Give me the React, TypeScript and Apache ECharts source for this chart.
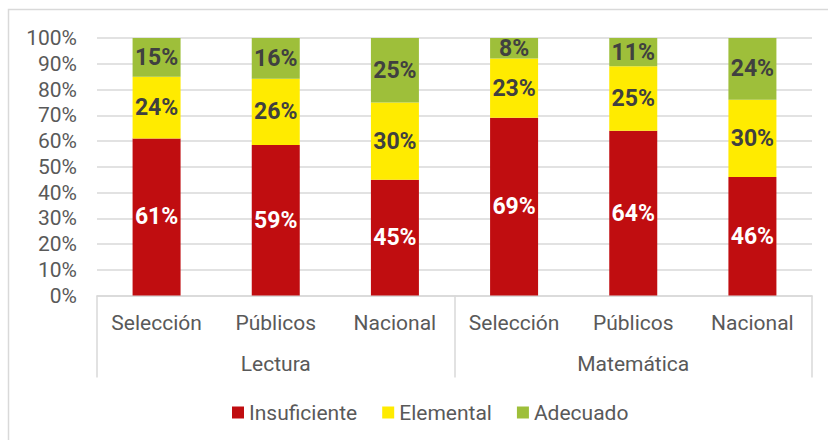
import React, { useEffect, useRef } from "react";
import * as echarts from "echarts";

const categories = ["Selección", "Públicos", "Nacional", "Selección", "Públicos", "Nacional"];
const groups = ["Lectura", "Matemática"];
const insuficiente = [61, 59, 45, 69, 64, 46];
const elemental = [24, 26, 30, 23, 25, 30];
const adecuado = [15, 16, 25, 8, 11, 24];
const seriesNames = ["Insuficiente", "Elemental", "Adecuado"];
const colors = ["#C00D10", "#FFEB00", "#9EBF3A"];
const yTicks = [0, 10, 20, 30, 40, 50, 60, 70, 80, 90, 100];

const FONT = "Roboto";

export default function App() {
  const ref = useRef<HTMLDivElement>(null);
  useEffect(() => {
    if (!ref.current) return;
    const chart = echarts.init(ref.current, undefined, { renderer: "svg" });
    const raw = [insuficiente, elemental, adecuado];
    const totals = categories.map((_, i) => raw.reduce((s, a) => s + a[i], 0));
    const series = raw.map((arr, si) => ({
      name: seriesNames[si],
      type: "bar",
      stack: "total",
      barWidth: 48,
      itemStyle: { color: colors[si] },
      data: arr.map((v, i) => (v / totals[i]) * 100),
      label: {
        show: true,
        position: "inside",
        fontFamily: FONT,
        fontWeight: "bold",
        fontSize: 23,
        color: si === 0 ? "#FFFFFF" : "#404040",
        formatter: (p: any) => arr[p.dataIndex] + "%",
      },
    }));
    chart.setOption({
      animation: false,
      textStyle: { fontFamily: FONT },
      graphic: [
        {
          type: "rect",
          shape: { x: 8.5, y: 9.5, width: 900, height: 500 },
          style: { fill: "none", stroke: "#D9D9D9", lineWidth: 1.5 },
          silent: true,
        },
      ],
      legend: {
        data: seriesNames,
        left: 227,
        top: 397,
        itemWidth: 12,
        itemHeight: 12,
        itemGap: 25,
        icon: "rect",
        textStyle: { fontFamily: FONT, fontSize: 21, color: "#595959" },
      },
      grid: { left: 97, right: 16, top: 38, bottom: 144.5, containLabel: false },
      xAxis: [
        {
          type: "category",
          data: categories,
          position: "bottom",
          axisLine: { show: true, lineStyle: { color: "#D9D9D9", width: 1.5 } },
          axisTick: {
            show: true,
            interval: (i: number) => i % 3 === 0,
            length: 82,
            lineStyle: { color: "#D9D9D9", width: 1.5 },
          },
          axisLabel: {
            interval: 0,
            margin: 17,
            fontFamily: FONT,
            fontSize: 21,
            color: "#595959",
          },
        },
        {
          type: "category",
          data: groups,
          position: "bottom",
          offset: 41,
          axisLine: { show: false },
          axisTick: { show: false },
          axisLabel: {
            interval: 0,
            margin: 17,
            fontFamily: FONT,
            fontSize: 21,
            color: "#595959",
          },
        },
      ],
      yAxis: {
        type: "value",
        min: yTicks[0],
        max: yTicks[yTicks.length - 1],
        interval: 10,
        axisLine: { show: false },
        axisTick: { show: false },
        axisLabel: {
          formatter: "{value}%",
          margin: 20,
          fontFamily: FONT,
          fontSize: 21,
          color: "#595959",
        },
        splitLine: { lineStyle: { color: "#D9D9D9", width: 1.5 } },
      },
      series,
    });
    return () => chart.dispose();
  }, []);
  return (
    <div
      ref={ref}
      style={{ position: "fixed", left: 0, top: 0, width: 828, height: 440, background: "#fff" }}
    />
  );
}
